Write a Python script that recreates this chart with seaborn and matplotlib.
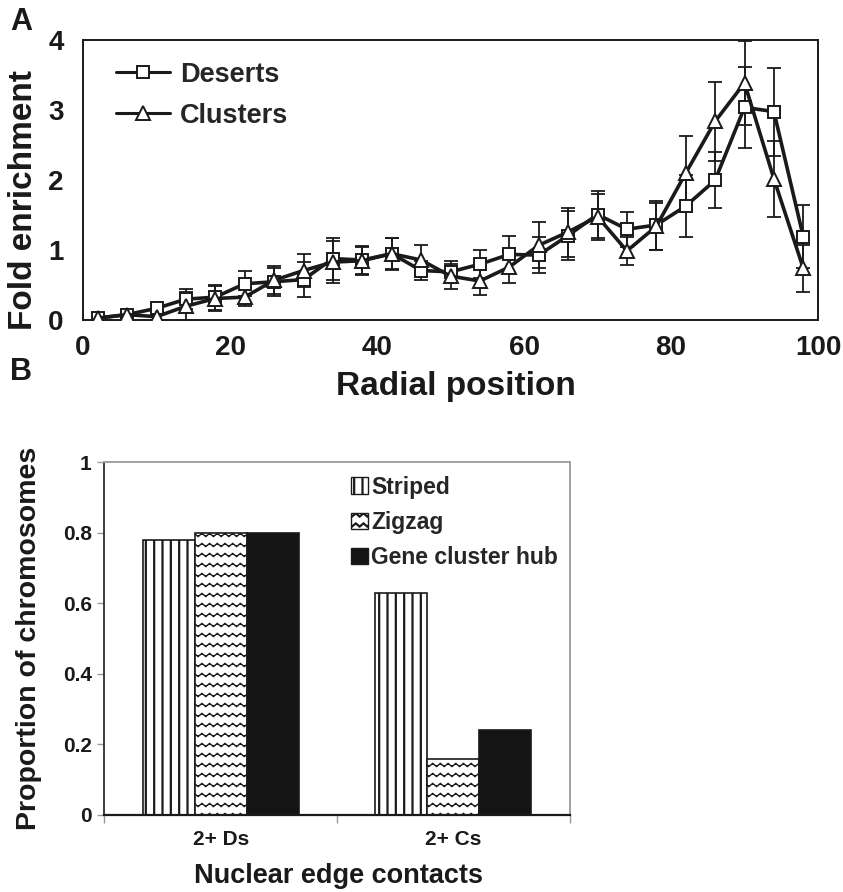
import numpy as np
import pandas as pd
import matplotlib
matplotlib.use("Agg")
import matplotlib.pyplot as plt
import matplotlib.hatch as mhatch
from matplotlib.path import Path
from matplotlib.lines import Line2D
from matplotlib.patches import Patch
from matplotlib.ticker import FixedLocator, FixedFormatter
import seaborn as sns

# ---------------- data ----------------
radial_position = [2, 6, 10, 14, 18, 22, 26, 30, 34, 38, 42, 46, 50,
                   54, 58, 62, 66, 70, 74, 78, 82, 86, 90, 94, 98]
deserts = [0.02, 0.07, 0.16, 0.29, 0.32, 0.51, 0.54, 0.57, 0.87, 0.85, 0.94, 0.70, 0.68,
           0.79, 0.93, 0.92, 1.20, 1.50, 1.29, 1.35, 1.62, 1.99, 3.03, 2.97, 1.18]
deserts_err = [0.02, 0.03, 0.05, 0.14, 0.18, 0.18, 0.20, 0.25, 0.30, 0.20, 0.22, 0.14, 0.15,
               0.20, 0.27, 0.26, 0.35, 0.33, 0.25, 0.35, 0.44, 0.40, 0.58, 0.63, 0.45]
clusters = [0.02, 0.07, 0.04, 0.19, 0.30, 0.32, 0.56, 0.70, 0.82, 0.84, 0.94, 0.85, 0.62,
            0.55, 0.75, 1.06, 1.25, 1.47, 0.98, 1.33, 2.09, 2.83, 3.38, 2.01, 0.73]
clusters_err = [0.02, 0.03, 0.04, 0.20, 0.18, 0.13, 0.20, 0.23, 0.30, 0.20, 0.23, 0.22, 0.18,
                0.20, 0.23, 0.33, 0.35, 0.33, 0.20, 0.33, 0.53, 0.56, 0.60, 0.54, 0.34]
series_names = ["Deserts", "Clusters"]

contact_categories = ["2+ Ds", "2+ Cs"]
pattern_names = ["Striped", "Zigzag", "Gene cluster hub"]
striped = [0.78, 0.63]
zigzag = [0.80, 0.16]
gene_cluster_hub = [0.80, 0.24]

# ---------------- custom zigzag hatch (uses the '*' hatch character) ----------------
class ZigzagHatch(mhatch.HatchPatternBase):
    def __init__(self, hatch, density):
        n = hatch.count("*")
        self.num_rows = int(round(n * density * 0.85)) if n else 0
        self.periods = 13
        self.pts = 4 * self.periods + 1
        self.num_vertices = self.num_rows * self.pts

    def set_vertices_and_codes(self, vertices, codes):
        xs = np.linspace(0.0, 1.0, self.pts)
        wave = 0.016 * np.sin(2 * np.pi * self.periods * xs)
        for r in range(self.num_rows):
            y = (r + 0.5) / self.num_rows
            s = slice(r * self.pts, (r + 1) * self.pts)
            vertices[s, 0] = xs
            vertices[s, 1] = y + wave
            codes[s] = Path.LINETO
            codes[r * self.pts] = Path.MOVETO

_ht = mhatch._hatch_types
_ht[_ht.index(mhatch.Stars)] = ZigzagHatch

# ---------------- style ----------------
sns.set_style("white")
plt.rcParams["font.family"] = ["Liberation Sans", "DejaVu Sans"]
plt.rcParams["font.weight"] = "bold"
plt.rcParams["axes.labelweight"] = "bold"
plt.rcParams["hatch.linewidth"] = 1.6
plt.rcParams["hatch.color"] = "black"

INK = "#1a1a1a"
W, H = 843, 892
fig = plt.figure(figsize=(W / 100, H / 100), dpi=100)

# ================= Panel A =================
a_left, a_right, a_top, a_bot = 83, 818, 39.5, 319.5
axA = fig.add_axes([a_left / W, 1 - a_bot / H, (a_right - a_left) / W, (a_bot - a_top) / H])

for vals, errs in [(deserts, deserts_err), (clusters, clusters_err)]:
    axA.errorbar(radial_position, vals, yerr=errs, fmt="none", ecolor=INK,
                 elinewidth=1.3, capsize=5, capthick=1.3, zorder=2)

dfA = pd.DataFrame({
    "Radial position": radial_position * 2,
    "Fold enrichment": deserts + clusters,
    "Series": [series_names[0]] * len(deserts) + [series_names[1]] * len(clusters),
})
n0 = len(axA.lines)
sns.lineplot(data=dfA, x="Radial position", y="Fold enrichment", hue="Series",
             style="Series", markers={"Deserts": "s", "Clusters": "^"}, dashes=False,
             palette={"Deserts": INK, "Clusters": INK}, linewidth=2.6,
             legend=False, errorbar=None, sort=False, ax=axA, zorder=3)
for ln in axA.lines[n0:]:
    ln.set_markerfacecolor("white")
    ln.set_markeredgecolor(INK)
    ln.set_markeredgewidth(1.4)
    ln.set_markersize(10 if ln.get_marker() == "^" else 9)

axA.set_xlim(0, 100)
axA.set_ylim(0, 4)
axA.set_xticks([0, 20, 40, 60, 80, 100])
axA.set_yticks([0, 1, 2, 3, 4])
axA.tick_params(axis="both", length=0, labelsize=20, colors=INK)
axA.tick_params(axis="x", pad=11)
axA.tick_params(axis="y", pad=14)
for s in axA.spines.values():
    s.set_visible(True)
    s.set_color(INK)
    s.set_linewidth(1.4)
axA.set_xlabel("Radial position", fontsize=24, fontweight="bold", color=INK)
axA.set_ylabel("Fold enrichment", fontsize=24, fontweight="bold", color=INK)
axA.xaxis.set_label_coords(0.507, -0.185)
axA.yaxis.set_label_coords(-0.060, 0.425)

handlesA = [
    Line2D([], [], color=INK, lw=2.2, marker="s", ms=9, mfc="white", mec=INK, mew=1.4),
    Line2D([], [], color=INK, lw=2.2, marker="^", ms=10, mfc="white", mec=INK, mew=1.4),
]
axA.legend(handlesA, series_names, loc="upper left", bbox_to_anchor=(0.045, 0.92),
           frameon=False, handlelength=2.0, handletextpad=0.35,
           labelspacing=0.55, borderpad=0, borderaxespad=0,
           prop={"weight": "bold", "size": 19.5})

fig.text(10 / W, 1 - 22 / H, "A", fontsize=22, fontweight="bold", va="center", ha="left", color=INK)

# ================= Panel B =================
b_left, b_right, b_top, b_bot = 104.3, 569.7, 462, 815
axB = fig.add_axes([b_left / W, 1 - b_bot / H, (b_right - b_left) / W, (b_bot - b_top) / H])

dfB = pd.DataFrame({
    "Nuclear edge contacts": contact_categories * 3,
    "Proportion": striped + zigzag + gene_cluster_hub,
    "Pattern": [p for p in pattern_names for _ in contact_categories],
})
sns.barplot(data=dfB, x="Nuclear edge contacts", y="Proportion", hue="Pattern",
            hue_order=pattern_names, order=contact_categories,
            palette={"Striped": "white", "Zigzag": "white", "Gene cluster hub": "#141414"},
            width=0.67, saturation=1, edgecolor=INK, linewidth=1.2,
            legend=False, ax=axB)

hatches = ["||", "**", None]
for cont, h in zip(axB.containers, hatches):
    for bar in cont:
        if h:
            bar.set_hatch(h)
            if h == "**":
                try:
                    bar.set_hatch_linewidth(1.0)
                except AttributeError:
                    pass

axB.set_xlim(-0.5, 1.5)
axB.set_ylim(0, 1)
axB.yaxis.set_major_locator(FixedLocator([0, 0.2, 0.4, 0.6, 0.8, 1.0]))
axB.yaxis.set_major_formatter(FixedFormatter(["0", "0.2", "0.4", "0.6", "0.8", "1"]))
axB.tick_params(axis="y", left=True, length=5, width=1, color="#999999",
                labelsize=15, pad=4, labelcolor=INK)
axB.tick_params(axis="x", which="major", length=0, labelsize=15, pad=11, labelcolor=INK)
axB.xaxis.set_minor_locator(FixedLocator([-0.5, 0.5, 1.5]))
axB.tick_params(axis="x", which="minor", bottom=True, length=6, width=1, color="#999999")
for name, s in axB.spines.items():
    s.set_visible(True)
axB.spines["top"].set_color("#a0a0a0")
axB.spines["right"].set_color("#a0a0a0")
axB.spines["top"].set_linewidth(1.4)
axB.spines["right"].set_linewidth(1.4)
axB.spines["left"].set_color(INK)
axB.spines["left"].set_linewidth(1.2)
axB.spines["bottom"].set_color(INK)
axB.spines["bottom"].set_linewidth(1.6)

axB.set_xlabel("Nuclear edge contacts", fontsize=19.5, fontweight="bold", color=INK)
axB.set_ylabel("Proportion of chromosomes", fontsize=20.5, fontweight="bold", color=INK)
axB.xaxis.set_label_coords(0.503, -0.136)
axB.yaxis.set_label_coords(-0.133, 0.5)

handlesB = [
    Patch(facecolor="white", edgecolor=INK, hatch="||", lw=1.0),
    Patch(facecolor="white", edgecolor=INK, hatch="**", lw=1.0),
    Patch(facecolor="#141414", edgecolor=INK, lw=1.0),
]
axB.legend(handlesB, pattern_names, loc="upper left", bbox_to_anchor=(0.53, 0.961),
           frameon=False, handlelength=0.75, handleheight=0.75, handletextpad=0.12,
           labelspacing=0.53, borderpad=0, borderaxespad=0,
           prop={"weight": "bold", "size": 16.5})

fig.text(10 / W, 1 - 372 / H, "B", fontsize=22, fontweight="bold", va="center", ha="left", color=INK)

fig.savefig("out.png", dpi=100, facecolor="white")
